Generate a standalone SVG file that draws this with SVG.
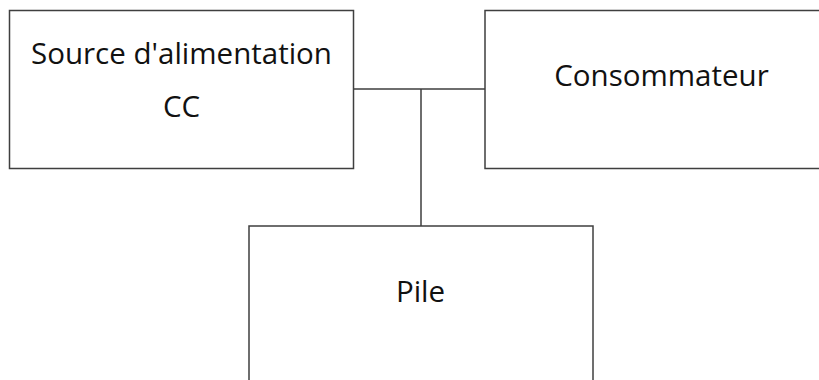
<svg xmlns="http://www.w3.org/2000/svg" width="819" height="380" viewBox="0 0 819 380">
<style>
.box{fill:#fff;stroke:#3f3f3f;stroke-width:1.5}
.ln{fill:none;stroke:#3f3f3f;stroke-width:1.5}
.t{font-family:"Open Sans","Liberation Sans",sans-serif;font-size:29.5px;fill:#111;text-anchor:middle}
</style>
<rect width="819" height="380" fill="#fff"/>
<g id="connectors">
<path class="ln" d="M353,89 H485 M421,89 V226"/>
</g>
<g id="source">
<rect class="box" x="9.5" y="10.5" width="344" height="158"/>
<text class="t" x="181.5" y="64">Source d'alimentation</text>
<text class="t" x="181.5" y="117">CC</text>
</g>
<g id="consommateur">
<rect class="box" x="485" y="10.5" width="353" height="158"/>
<text class="t" x="661.5" y="86">Consommateur</text>
</g>
<g id="pile">
<rect class="box" x="249" y="226" width="344" height="170"/>
<text class="t" x="420.5" y="302">Pile</text>
</g>
</svg>
